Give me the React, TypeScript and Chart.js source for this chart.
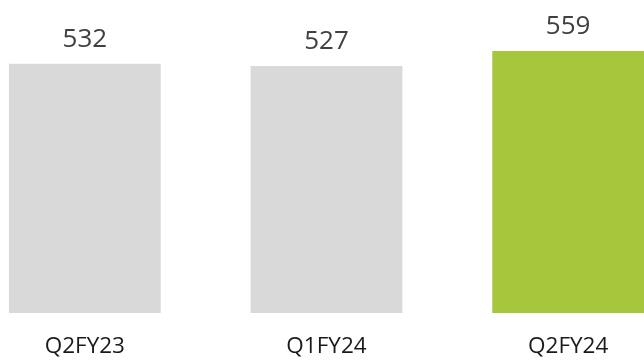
import React, { useEffect, useRef } from "react";
import { Chart, registerables } from "chart.js";

Chart.register(...registerables);

const categories = ["Q2FY23", "Q1FY24", "Q2FY24"];
const values = [532, 527, 559];
const barColors = ["#D9D9D9", "#D9D9D9", "#A6C63C"];

const FONT = "'Open Sans', 'Noto Sans', sans-serif";

const valueLabels = {
  id: "valueLabels",
  afterDatasetsDraw(chart: Chart) {
    const { ctx } = chart;
    const meta = chart.getDatasetMeta(0);
    ctx.save();
    ctx.font = `26px ${FONT}`;
    ctx.fillStyle = "#404040";
    ctx.textAlign = "center";
    ctx.textBaseline = "alphabetic";
    meta.data.forEach((bar: any, i: number) => {
      ctx.fillText(String(values[i]), bar.x, bar.y - 17);
    });
    ctx.restore();
  },
};

export default function App() {
  const canvasRef = useRef<HTMLCanvasElement | null>(null);

  useEffect(() => {
    if (!canvasRef.current) return;
    const chart = new Chart(canvasRef.current, {
      type: "bar",
      data: {
        labels: categories,
        datasets: [
          {
            data: values,
            backgroundColor: barColors,
            borderWidth: 0,
            barPercentage: 1,
            categoryPercentage: 0.628,
          },
        ],
      },
      options: {
        animation: false,
        responsive: false,
        maintainAspectRatio: false,
        layout: { padding: { top: 0, bottom: 2, left: 0, right: 0 } },
        plugins: {
          legend: { display: false },
          tooltip: { enabled: false },
        },
        scales: {
          x: {
            grid: { display: false },
            border: { display: false },
            ticks: {
              color: "#1A1A1A",
              font: { family: FONT, size: 22.5 },
              padding: 12.5,
              maxRotation: 0,
            },
          },
          y: {
            display: false,
            min: 0,
            max: 668,
          },
        },
      },
      plugins: [valueLabels],
    });
    return () => chart.destroy();
  }, []);

  return (
    <div
      style={{
        position: "fixed",
        left: 0,
        top: 0,
        width: 644,
        height: 360,
        overflow: "hidden",
        background: "#FFFFFF",
      }}
    >
      <canvas
        ref={canvasRef}
        width={725}
        height={375}
        style={{ position: "absolute", left: -36, top: 0, width: 725, height: 375 }}
      />
    </div>
  );
}
